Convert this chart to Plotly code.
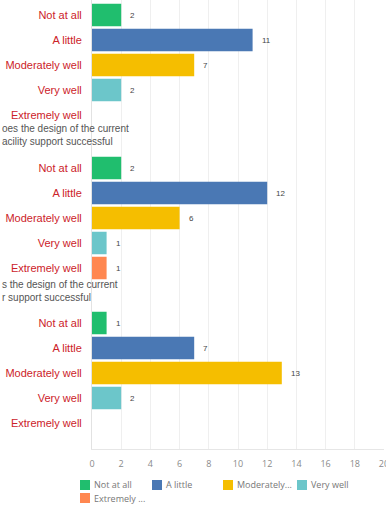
import plotly.graph_objects as go

# Answer options, shared by all three questions
categories = ["Not at all", "A little", "Moderately well", "Very well", "Extremely well"]
legend_names = ["Not at all", "A little", "Moderately...", "Very well", "Extremely ..."]
colors = ["#20be6e", "#4a78b4", "#f5be00", "#6cc6ca", "#ff8750"]

# Response counts per question (one list per panel, in category order)
q1_counts = [2, 11, 7, 2, 0]
q2_counts = [2, 12, 6, 1, 1]
q3_counts = [1, 7, 13, 2, 0]
panels = [q1_counts, q2_counts, q3_counts]

# Partially visible question headings above panels 2 and 3
headings = [
    None,
    "oes the design of the current<br>acility support successful",
    "s the design of the current<br>r support successful",
]

x_ticks = list(range(0, 21, 2))

W, H = 386, 505
ML, MR, MT, MB = 92, 2, 0, 56
PW, PH = W - ML - MR, H - MT - MB


def px2x(px):
    return (px - ML) / PW


def py2y(py):
    return 1 - (py - MT) / PH


# panel pixel extents (top, bottom) and pixel centre of the first category
panel_px = [(0, 150, 15), (150, 300, 168), (300, 449, 323)]
row_px = 25.0
heading_py = [None, 134.5, 291]

fig = go.Figure()
label_font = dict(family="Liberation Sans, Arial, sans-serif", size=11, color="#cc2229")

for p, counts in enumerate(panels):
    yname = "y" if p == 0 else f"y{p + 1}"
    for i, (cat, val) in enumerate(zip(categories, counts)):
        fig.add_trace(go.Bar(
            x=[val], y=[cat], orientation="h",
            marker=dict(color=colors[i], line=dict(width=0)),
            width=0.9, yaxis=yname, xaxis="x",
            name=legend_names[i], legendgroup=cat, showlegend=False,
            hoverinfo="skip",
        ))
        if val > 0:
            fig.add_annotation(
                x=val, y=cat, xref="x", yref=yname,
                text=str(val), showarrow=False,
                xanchor="left", xshift=7,
                font=dict(family="Liberation Sans, Arial, sans-serif", size=8, color="#444"),
            )

    top, bot, first = panel_px[p]
    r_top = -(first - top) / row_px
    r_bot = r_top + (bot - top) / row_px
    axis = dict(
        domain=[py2y(bot), py2y(top)],
        type="category",
        categoryorder="array", categoryarray=categories,
        range=[r_bot, r_top],
        showgrid=False, zeroline=False,
        showline=True, linecolor="#e2e2e2", linewidth=1,
        ticks="", ticklabelstandoff=7,
        tickfont=label_font,
        anchor="x", fixedrange=True,
    )
    key = "yaxis" if p == 0 else f"yaxis{p + 1}"
    fig.update_layout(**{key: axis})

    if headings[p]:
        fig.add_annotation(
            x=px2x(0), y=py2y(heading_py[p]), xref="paper", yref="paper",
            text=headings[p], showarrow=False, xanchor="left", yanchor="middle",
            align="left",
            font=dict(family="Liberation Sans, Arial, sans-serif", size=10, color="#555"),
        )

fig.update_layout(
    xaxis=dict(
        domain=[0, 1], range=[0, 20], tickvals=x_ticks,
        showgrid=True, gridcolor="#efefef", gridwidth=1,
        zeroline=False, showline=True, linecolor="#e6e6e6",
        ticks="", ticklabelstandoff=6, ticklabeloverflow="allow",
        tickfont=dict(family="Open Sans, sans-serif", size=9, color="#8a8a8a"),
        anchor="y3", automargin=False, fixedrange=True,
    ),
)

# Legend: colour swatch followed by its answer label
legend_px = [(80, 485), (152, 485), (223, 485), (297, 485), (80, 498)]
for name, color, (lx, ly) in zip(legend_names, colors, legend_px):
    fig.add_shape(
        type="rect", xref="paper", yref="paper",
        x0=px2x(lx), x1=px2x(lx + 10), y0=py2y(ly + 5), y1=py2y(ly - 5),
        fillcolor=color, line=dict(width=0),
    )
    fig.add_annotation(
        x=px2x(lx + 12), y=py2y(ly), xref="paper", yref="paper",
        text=name, showarrow=False, xanchor="left", yanchor="middle",
        font=dict(family="Open Sans, sans-serif", size=9, color="#777"),
    )

fig.update_layout(
    width=W, height=H,
    margin=dict(l=ML, r=MR, t=MT, b=MB, autoexpand=False),
    plot_bgcolor="white", paper_bgcolor="white",
    barmode="overlay", showlegend=False,
)

fig.write_html("out.html", config={"displayModeBar": False})
